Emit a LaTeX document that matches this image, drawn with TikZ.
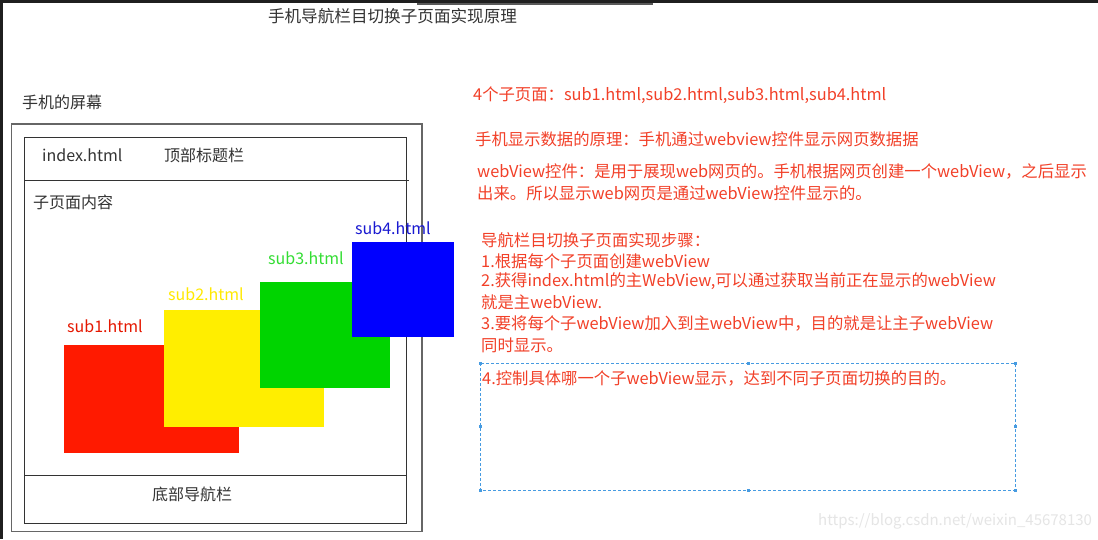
\documentclass[tikz,border=0pt]{standalone}
\usepackage{fontspec}
\setmainfont{Noto Sans CJK SC}
\usetikzlibrary{positioning}

\definecolor{notered}{RGB}{242,64,40}
\definecolor{subred}{RGB}{255,26,0}
\definecolor{subyellow}{RGB}{255,238,0}
\definecolor{subgreen}{RGB}{0,212,0}
\definecolor{subblue}{RGB}{0,0,255}
\definecolor{handleblue}{RGB}{70,155,225}

\begin{document}
\begin{tikzpicture}[x=1pt,y=-1pt,
    txt/.style={anchor=west,inner sep=0pt,text=black!80,font=\fontsize{16}{20}\selectfont},
    note/.style={txt,text=notered,font=\fontsize{16.35}{20}\selectfont},
    page/.style={inner sep=0pt,draw=none},
    handle/.style={fill=handleblue,inner sep=0pt,minimum size=3pt}]

  \useasboundingbox (0,0) rectangle (1098,539);
  \fill[white] (0,0) rectangle (1098,539);
  % screen edges
  \fill[black!88] (0,0) rectangle (1098,3);
  \fill[black!88] (0,0) rectangle (2.5,539);
  \fill[black!65] (417,3) rectangle (653,5);

  \node[txt,anchor=center,font=\fontsize{16.6}{20}\selectfont] (title) at (392.5,16) {手机导航栏目切换子页面实现原理};

  % phone
  \node[txt] (screen) at (22,102) {手机的屏幕};
  \draw[black!60,line width=1.3pt] (11.5,124) rectangle (422,531.5);
  \draw[black!80,line width=1pt] (24.5,137.5) rectangle (406.5,523.5);
  \draw[black!80,line width=1pt] (24.5,180) -- (408.5,180);
  \draw[black!80,line width=1pt] (24.5,475.5) -- (406.5,475.5);
  \node[txt] (index) at (42,155) {index.html};
  \node[txt] (topbar) at (164,155) {顶部标题栏};
  \node[txt] (content) at (33,202) {子页面内容};
  \node[txt] (navbar) at (152,494) {底部导航栏};

  % sub pages
  \node[page,fill=subred,minimum width=175pt,minimum height=108pt] (sub1) at (151.5,399) {};
  \node[page,fill=subyellow,minimum width=160pt,minimum height=117pt] (sub2) at (243.5,368.5) {};
  \node[page,fill=subgreen,minimum width=130pt,minimum height=106pt] (sub3) at (325,335) {};
  \node[page,fill=subblue,minimum width=102pt,minimum height=95pt] (sub4) at (402.5,289.5) {};
  \node[txt,text=subred!90!black] (sub1 label) at (67,326) {sub1.html};
  \node[txt,text=subyellow!95!orange] (sub2 label) at (168,294) {sub2.html};
  \node[txt,text=subgreen!80!white] (sub3 label) at (268,258) {sub3.html};
  \node[txt,text=subblue!80!black!90!white] (sub4 label) at (355,228) {sub4.html};

  % notes
  \node[note] (n1) at (473,95) {4个子页面：sub1.html,sub2.html,sub3.html,sub4.html};
  \node[note] (n2) at (475,139) {手机显示数据的原理：手机通过webview控件显示网页数据据};
  \node[note] (n3) at (477,171) {webView控件：是用于展现web网页的。手机根据网页创建一个webView，之后显示};
  \node[note] (n4) at (477,193) {出来。所以显示web网页是通过webView控件显示的。};
  \node[note] (s0) at (481,240) {导航栏目切换子页面实现步骤：};
  \node[note] (s1) at (481,261) {1.根据每个子页面创建webView};
  \node[note] (s2) at (481,281) {2.获得index.html的主WebView,可以通过获取当前正在显示的webView};
  \node[note] (s3) at (481,302) {就是主webView.};
  \node[note] (s4) at (481,323) {3.要将每个子webView加入到主webView中，目的就是让主子webView};
  \node[note] (s5) at (481,345) {同时显示。};

  % selected text box
  \draw[handleblue,line width=0.9pt,dash pattern=on 3pt off 2pt] (480,363) rectangle (1015,490);
  \foreach \hx/\hy in {480/363,748/363,1015/363,480/426.5,1015/426.5,480/490,748/490,1015/490}
    \node[handle] at (\hx,\hy) {};
  \node[note] (s6) at (482,378) {4.控制具体哪一个子webView显示，达到不同子页面切换的目的。};

  \node[txt,text=black!10,font=\fontsize{15}{18}\selectfont] (mark) at (818,521) {https://blog.csdn.net/weixin\_45678130};
\end{tikzpicture}
\end{document}
